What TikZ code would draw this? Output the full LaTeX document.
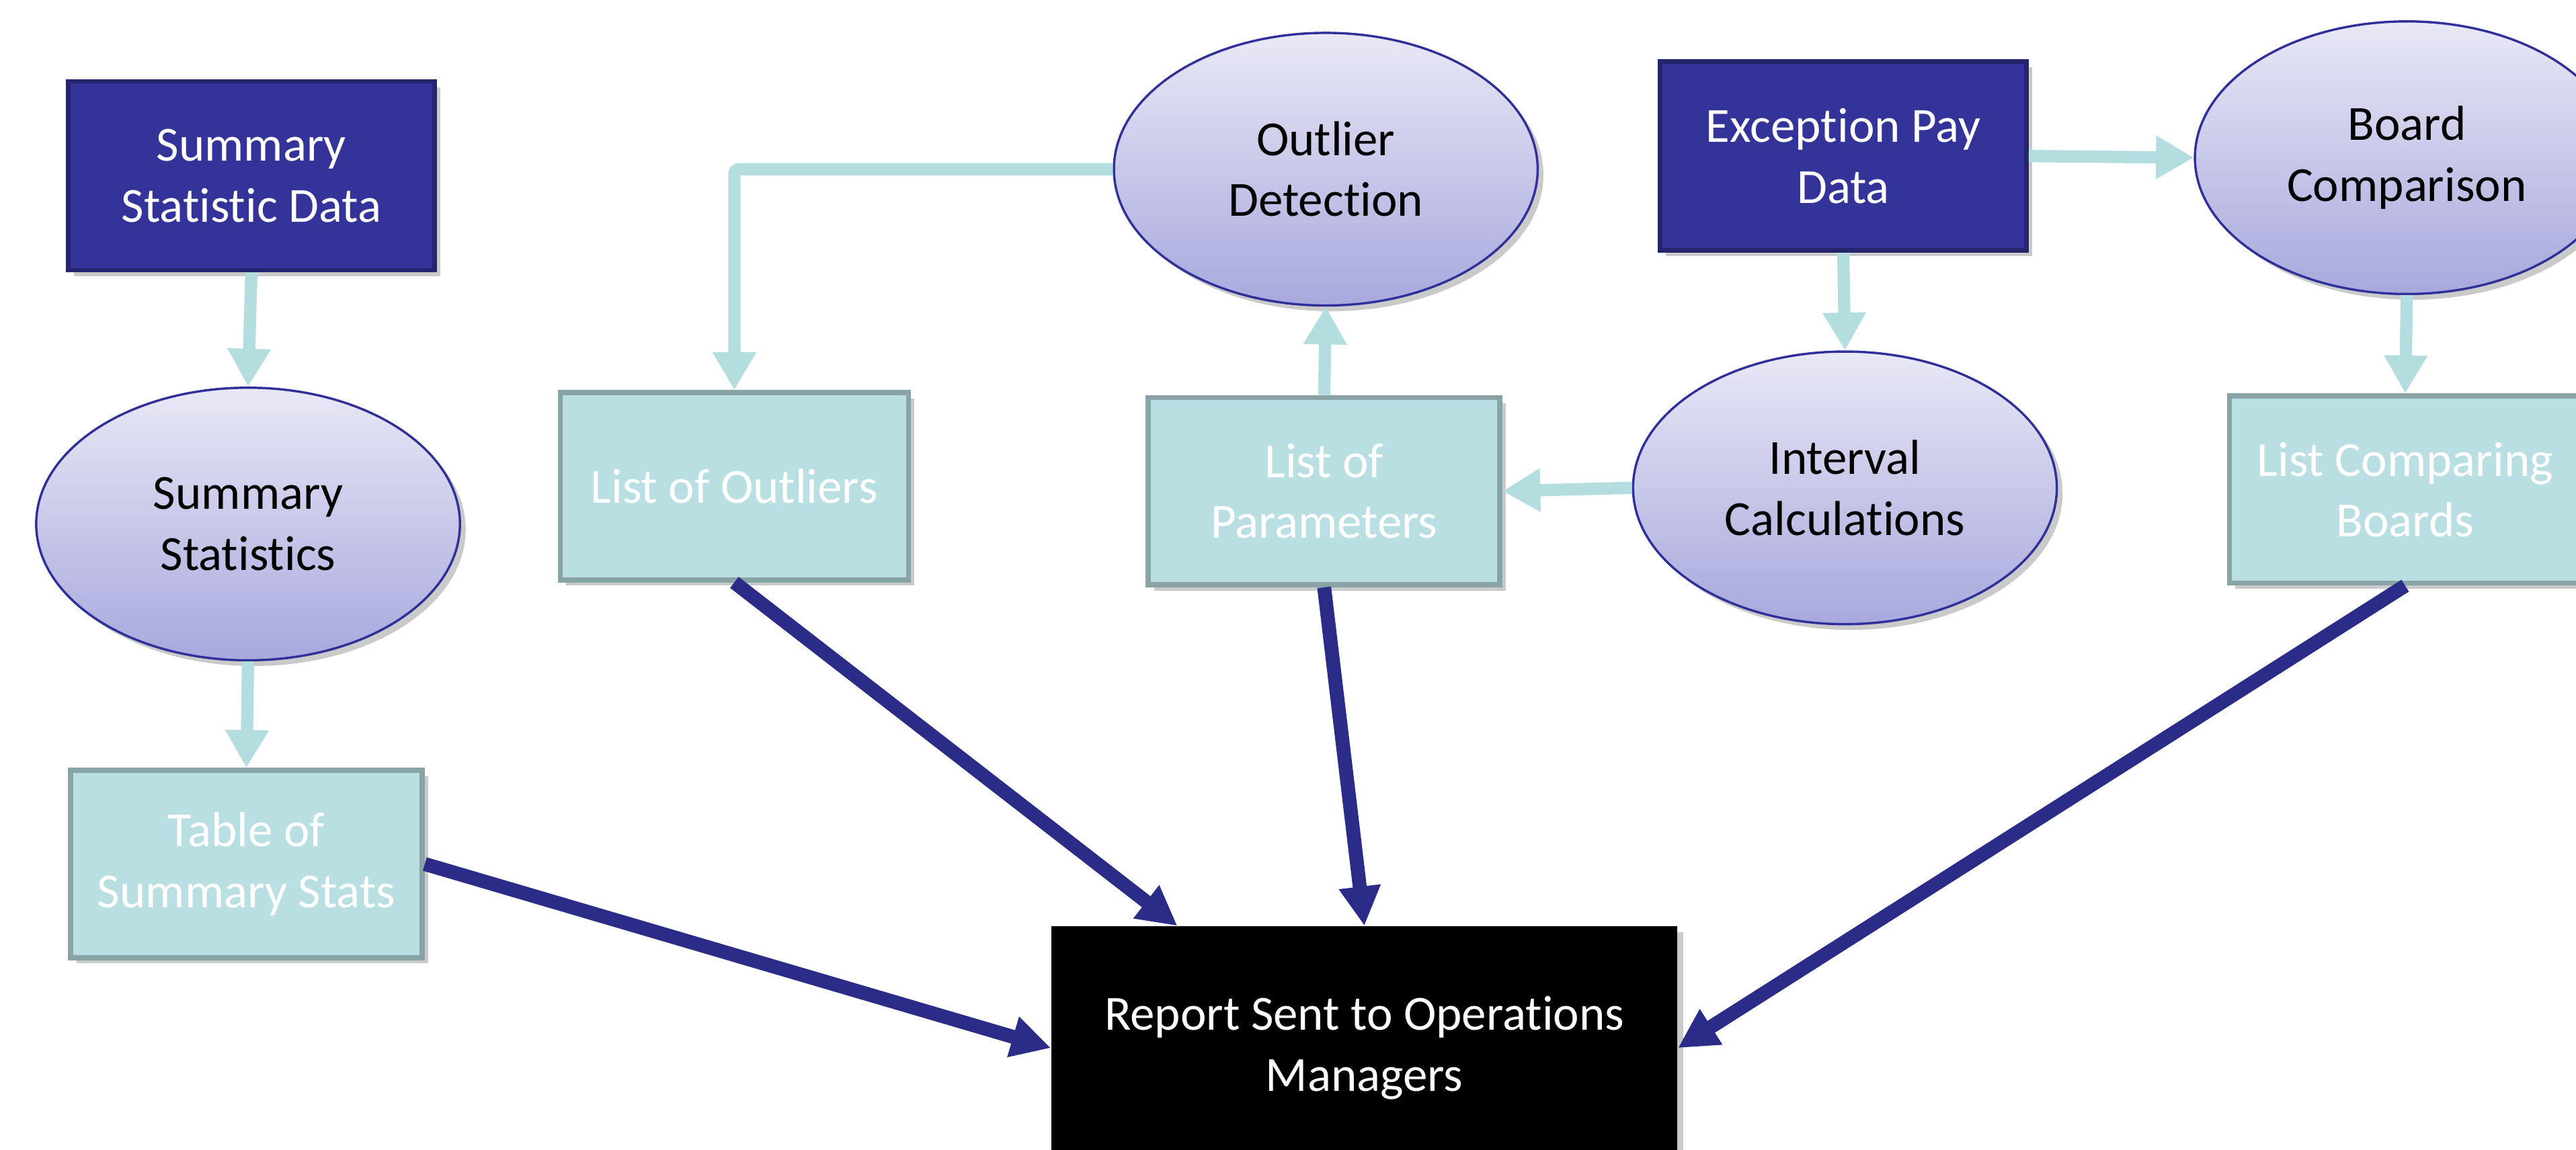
\documentclass[tikz,border=0pt]{standalone}
\usepackage{fontspec}
\setmainfont{Carlito}[Ligatures=NoCommon]
\usetikzlibrary{arrows.meta,shapes.geometric,shadows}
\definecolor{navyfill}{HTML}{333399}
\definecolor{navyline}{HTML}{25256E}
\definecolor{tealfill}{HTML}{B9DFE2}
\definecolor{tealline}{HTML}{88A4A6}
\definecolor{tealarrow}{HTML}{B3DDDF}
\definecolor{darkarrow}{HTML}{2B2B88}
\definecolor{elltop}{HTML}{E8E8F6}
\definecolor{ellbot}{HTML}{A8A8DD}
\definecolor{ellline}{HTML}{30309A}
\begin{document}
\begin{tikzpicture}[x=0.02cm,y=-0.02cm,
 every node/.style={font=\fontsize{17}{21}\selectfont, align=center, inner sep=0pt},
 boxshadow/.style={drop shadow={shadow xshift=0.07cm, shadow yshift=-0.07cm, opacity=0.35, fill=black!60}},
 srcbox/.style={rectangle, draw=navyline, line width=1.6pt, fill=navyfill, text=white, minimum width=4.46cm, minimum height=2.3cm, boxshadow},
 outbox/.style={rectangle, draw=tealline, line width=1.8pt, fill=tealfill, text=white, minimum width=4.28cm, minimum height=2.28cm, boxshadow},
 procell/.style={ellipse, draw=ellline, line width=0.8pt, top color=elltop, bottom color=ellbot, text=black, minimum width=5.16cm, minimum height=3.32cm, boxshadow},
 reportbox/.style={rectangle, fill=black, text=white, minimum width=7.62cm, minimum height=2.96cm, boxshadow},
 lightarrow/.style={draw=tealarrow, line width=0.15cm, -{Triangle[length=0.46cm,width=0.5cm]}},
 darkarr/.style={draw=darkarrow, line width=0.17cm, -{Triangle[length=0.48cm,width=0.48cm]}}
]
\path[use as bounding box] (0,0) rectangle (1568,700);
\clip (0,0) rectangle (1568,700);

\node[srcbox] (ssd) at (153,107) {Summary\\Statistic Data};
\node[procell] (ss) at (151,319) {Summary\\Statistics};
\node[outbox] (tss) at (150,526) {Table of\\Summary Stats};
\node[outbox, minimum width=4.24cm] (lo) at (447,296) {List of Outliers};
\node[procell] (od) at (807,103) {Outlier\\Detection};
\node[outbox] (lp) at (806,299) {List of\\Parameters};
\node[procell] (ic) at (1123,297) {Interval\\Calculations};
\node[srcbox] (epd) at (1122,95) {Exception Pay\\Data};
\node[procell] (bc) at (1465,96) {Board\\Comparison};
\node[outbox] (lcb) at (1464,298) {List Comparing\\Boards};
\node[reportbox] (rep) at (830.5,638) {Report Sent to Operations\\Managers};

\draw[lightarrow] (ssd.south) -- (ss.north);
\draw[lightarrow] (ss.south) -- (tss.north);
\draw[lightarrow, rounded corners=0.06cm] (od.west) -| (lo.north);
\draw[lightarrow] (lp.north) -- (od.south);
\draw[lightarrow] (ic.west) -- (lp.east);
\draw[lightarrow] (epd.south) -- (ic.north);
\draw[lightarrow] (epd.east) -- (bc.west);
\draw[lightarrow] (bc.south) -- (lcb.north);

\draw[darkarr] (tss.east) -- (rep.west);
\draw[darkarr] (lo.south) -- ([xshift=1.54cm]rep.north west);
\draw[darkarr] (lp.south) -- (rep.north);
\draw[darkarr] (lcb.south) -- (rep.east);
\end{tikzpicture}
\end{document}
